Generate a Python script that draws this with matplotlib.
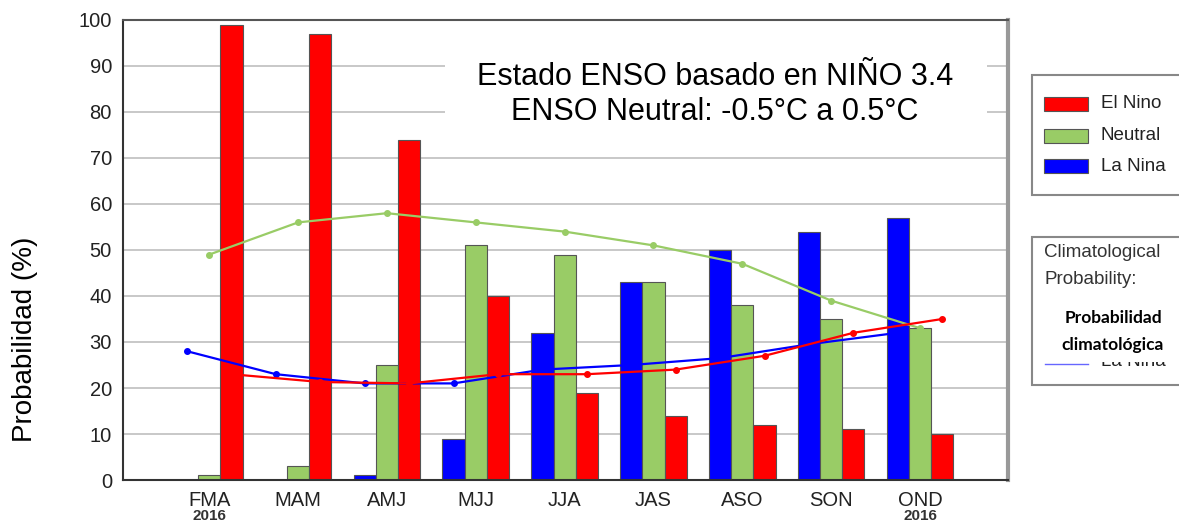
import matplotlib
matplotlib.use("Agg")
import matplotlib.pyplot as plt
from matplotlib.patches import Rectangle
from matplotlib.lines import Line2D
import numpy as np

seasons = ["FMA", "MAM", "AMJ", "MJJ", "JJA", "JAS", "ASO", "SON", "OND"]
la_nina = [0, 0, 1, 9, 32, 43, 50, 54, 57]
neutral = [1, 3, 25, 51, 49, 43, 38, 35, 33]
el_nino = [99, 97, 74, 40, 19, 14, 12, 11, 10]

clim_la_nina = [28, 23, 21, 21, 24, 25, 26.5, 29.5, 32]
clim_neutral = [49, 56, 58, 56, 54, 51, 47, 39, 33]
clim_el_nino = [23, 21.3, 21, 23, 23, 24, 27, 32, 35]

RED = "#ff0000"
GREEN = "#99cc66"
BLUE = "#0000ff"

W, H = 1179, 523
plt.rcParams["font.family"] = ["Liberation Sans", "DejaVu Sans"]

fig = plt.figure(figsize=(W / 100, H / 100), dpi=100)
ax = fig.add_axes([123 / W, 1 - 480 / H, (1008 - 123) / W, 460 / H])

x = np.arange(1, len(seasons) + 1)
bw = 0.25
edge = dict(edgecolor="#555555", linewidth=0.8)
ax.bar(x - bw, la_nina, bw, color=BLUE, zorder=2, **edge)
ax.bar(x, neutral, bw, color=GREEN, zorder=2, **edge)
ax.bar(x + bw, el_nino, bw, color=RED, zorder=2, **edge)

ax.plot(x - bw, clim_la_nina, color=BLUE, lw=1.6, marker="o", ms=4, zorder=3)
ax.plot(x, clim_neutral, color=GREEN, lw=1.6, marker="o", ms=4, zorder=3)
ax.plot(x + bw, clim_el_nino, color=RED, lw=1.6, marker="o", ms=4, zorder=3)

ax.set_xlim(0.03, 9.99)
ax.set_ylim(0, 100)
ax.set_yticks(range(0, 101, 10))
ax.set_xticks(x)
ax.set_xticklabels(seasons)
ax.tick_params(length=0, labelsize=14.5, labelcolor="#222222")
ax.tick_params(axis="y", pad=8)
ax.tick_params(axis="x", pad=8)
ax.yaxis.grid(True, color="#c8c8c8", lw=1.4)
ax.set_axisbelow(True)
for s in ["left", "bottom"]:
    ax.spines[s].set_color("#333333")
    ax.spines[s].set_linewidth(1.5)
ax.spines["top"].set_color("#555555")
ax.spines["top"].set_linewidth(1.5)
ax.spines["right"].set_color("#999999")
ax.spines["right"].set_linewidth(3)

for i in (0, len(seasons) - 1):
    ax.text(x[i], -0.078, "2016", transform=ax.get_xaxis_transform(),
            ha="center", va="center", fontsize=11, fontweight="bold", color="#333333")

# white box behind the ENSO note
ax.add_patch(Rectangle((0.364, 0.76), 0.612, 0.19, transform=ax.transAxes,
                       facecolor="white", edgecolor="none", zorder=1.5))
fig.text(715 / W, 1 - 77 / H, "Estado ENSO basado en NIÑO 3.4", ha="center", va="center",
         fontsize=22)
fig.text(715 / W, 1 - 112 / H, "ENSO Neutral: -0.5°C a 0.5°C", ha="center", va="center",
         fontsize=22)

fig.text(25 / W, 1 - 339 / H, "Probabilidad (%)", rotation=90, ha="center", va="center",
         fontsize=20)


def px(xp, yp):
    return (xp / W, 1 - yp / H)


# legend 1
fig.add_artist(Rectangle(px(1032, 195), 160 / W, 120 / H, transform=fig.transFigure,
                         facecolor="white", edgecolor="#888888", lw=1.5))
for yc, col, lab in [(104, RED, "El Nino"), (136, GREEN, "Neutral"), (166, BLUE, "La Nina")]:
    fig.add_artist(Rectangle(px(1044, yc + 7), 44 / W, 14 / H, transform=fig.transFigure,
                             facecolor=col, edgecolor="#555555", lw=0.8))
    fig.text(1101 / W, 1 - yc / H, lab, ha="left", va="center", fontsize=13.5, color="#222222")

# legend 2
fig.add_artist(Rectangle(px(1032, 385), 160 / W, 148 / H, transform=fig.transFigure,
                         facecolor="white", edgecolor="#888888", lw=1.5))
fig.text(1044 / W, 1 - 253 / H, "Climatological", ha="left", va="center", fontsize=13.5, color="#333333")
fig.text(1044 / W, 1 - 280 / H, "Probability:", ha="left", va="center", fontsize=13.5, color="#333333")
fig.text(1101 / W, 1 - 362 / H, "La Nina", ha="left", va="center", fontsize=13.5, color="#222222")
fig.add_artist(Rectangle(px(1036, 362), 143 / W, 66 / H, transform=fig.transFigure,
                         facecolor="white", edgecolor="none", zorder=5))
fig.add_artist(Line2D([1045 / W, 1088 / W], [1 - 364 / H, 1 - 364 / H], transform=fig.transFigure,
                      color="#6666ff", lw=1, zorder=6))
t1 = fig.text(1113 / W, 1 - 318 / H, "Probabilidad", ha="center", va="center", fontsize=12.5,
              fontweight="bold", family=["Lato", "DejaVu Sans"])
t2 = fig.text(1113 / W, 1 - 345 / H, "climatológica", ha="center", va="center", fontsize=12.5,
              fontweight="bold", family=["Lato", "DejaVu Sans"])
t1.set_zorder(6)
t2.set_zorder(6)

fig.savefig("out.png", dpi=100)
